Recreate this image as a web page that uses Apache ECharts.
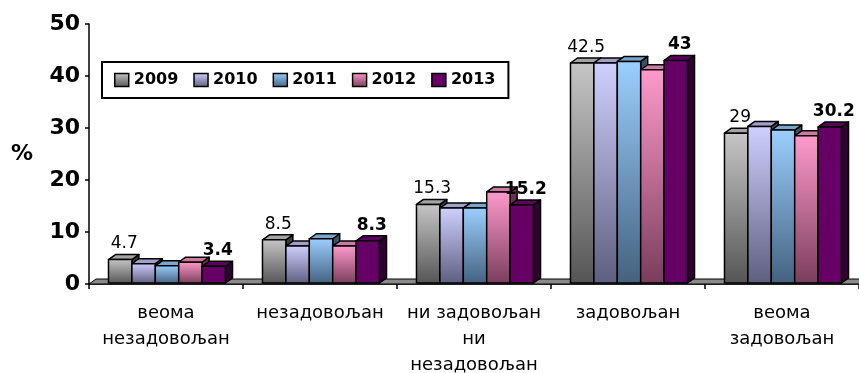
<!DOCTYPE html>
<html>
<head>
<meta charset="utf-8">
<script src="https://cdn.jsdelivr.net/npm/echarts@6/dist/echarts.min.js"></script>
<style>html,body{margin:0;padding:0;background:#fff}#c{width:859px;height:373px}</style>
</head>
<body>
<div id="c"></div>
<script>
const categories = ['веома\nнезадовољан', 'незадовољан', 'ни задовољан\nни\nнезадовољан', 'задовољан', 'веома\nзадовољан'];
const years = ['2009', '2010', '2011', '2012', '2013'];
const v2009 = [4.7, 8.5, 15.3, 42.5, 29];
const v2010 = [3.9, 7.3, 14.6, 42.5, 30.3];
const v2011 = [3.5, 8.7, 14.6, 42.8, 29.6];
const v2012 = [4.2, 7.3, 17.7, 41.2, 28.5];
const v2013 = [3.4, 8.3, 15.2, 43, 30.2];
const yTicks = [0, 10, 20, 30, 40, 50];

const seriesValues = [v2009, v2010, v2011, v2012, v2013];
const palette = [
  {front: ['#c6c6c6', '#555555'], top: '#a4a4a4', side: '#3c3c3c'},
  {front: ['#d0d0ff', '#5e5e80'], top: '#a0a0c8', side: '#4a4a66'},
  {front: ['#9ccfff', '#44627f'], top: '#78a6cf', side: '#38526c'},
  {front: ['#ff9acc', '#7a3d5b'], top: '#cc7aa3', side: '#66334d'},
  {front: ['#660066', '#660066'], top: '#5a005a', side: '#330033'}
];
const labelOn = [ {weight: 'normal'}, null, null, null, {weight: 'bold'} ];
const DX = 7, DY = 5;
const FONT = '"DejaVu Sans", sans-serif';

function grad(c) {
  return new echarts.graphic.LinearGradient(0, 0, 0, 1, [
    {offset: 0, color: c[0]}, {offset: 1, color: c[1]}
  ]);
}

function makeRender(idx) {
  const p = palette[idx];
  return function (params, api) {
    const ci = api.value(0), v = api.value(1);
    const t = api.coord([ci, v]);
    const b = api.coord([ci, 0]);
    const band = api.size([1, 0])[0];
    const bw = band * 0.152;
    const x0 = t[0] - 2.5 * bw + idx * bw + 1;
    const x1 = x0 + bw;
    const yt = t[1], yb = b[1] - 1;
    const ln = {stroke: '#000', lineWidth: 1.5, lineJoin: 'round'};
    const children = [
      {type: 'polygon', shape: {points: [[x1, yt], [x1 + DX, yt - DY], [x1 + DX, yb - DY], [x1, yb]]},
       style: Object.assign({fill: p.side}, ln)},
      {type: 'polygon', shape: {points: [[x0, yt], [x0 + DX, yt - DY], [x1 + DX, yt - DY], [x1, yt]]},
       style: Object.assign({fill: p.top}, ln)},
      {type: 'rect', shape: {x: x0, y: yt, width: bw, height: yb - yt},
       style: Object.assign({fill: grad(p.front)}, ln)}
    ];
    if (labelOn[idx]) {
      children.push({type: 'text', z2: 100,
        style: {text: String(v), x: (x0 + x1) / 2 + 4, y: yt - 7, align: 'center', verticalAlign: 'bottom',
          fill: '#000', font: labelOn[idx].weight + ' 17px ' + FONT}});
    }
    return {type: 'group', children: children};
  };
}

function floorRender(params, api) {
  const cs = params.coordSys;
  const yb = cs.y + cs.height;
  return {type: 'polygon', shape: {points: [[cs.x, yb], [cs.x + DX, yb - DY], [cs.x + cs.width + DX, yb - DY], [cs.x + cs.width, yb]]},
    style: {fill: '#8a8a8a', stroke: '#000', lineWidth: 1}};
}

const series = [{type: 'custom', name: 'floor', renderItem: floorRender, data: [[0, 0]], silent: true, z: 1}];
years.forEach(function (y, i) {
  series.push({
    type: 'custom', name: y, renderItem: makeRender(i), z: 2,
    itemStyle: {color: grad(palette[i].front)},
    data: seriesValues[i].map(function (val, k) { return [k, val]; })
  });
});

const chart = echarts.init(document.getElementById('c'), null, {renderer: 'canvas'});
chart.setOption({
  animation: false,
  backgroundColor: '#fff',
  grid: {left: 89, right: 0, top: 24, bottom: 89, containLabel: false, outerBoundsMode: 'none'},
  legend: {
    left: 102, top: 62, orient: 'horizontal',
    padding: [10, 13, 10, 12], itemGap: 15, itemWidth: 14, itemHeight: 13,
    borderColor: '#000', borderWidth: 2, backgroundColor: '#fff',
    textStyle: {fontFamily: FONT, fontWeight: 'bold', fontSize: 16, color: '#000'},
    data: years.map(function (y, i) {
      return {name: y, icon: 'rect', itemStyle: {color: grad(palette[i].front), borderColor: '#000', borderWidth: 1.5}};
    })
  },
  xAxis: {
    type: 'category', data: categories,
    axisLine: {lineStyle: {color: '#000', width: 1.5}, onZero: false},
    axisTick: {show: true, length: 5, lineStyle: {color: '#000', width: 1.5}},
    axisLabel: {fontFamily: FONT, fontSize: 18, color: '#000', lineHeight: 26, margin: 16, interval: 0}
  },
  yAxis: {
    type: 'value', min: yTicks[0], max: yTicks[yTicks.length - 1], interval: 10,
    name: '%', nameLocation: 'middle', nameGap: 56, nameRotate: 0,
    nameTextStyle: {fontFamily: FONT, fontWeight: 'bold', fontSize: 22, color: '#000', padding: [6, 0, 0, 0]},
    splitLine: {show: false},
    axisLine: {show: true, lineStyle: {color: '#000', width: 1.5}},
    axisTick: {show: true, length: 4, lineStyle: {color: '#000', width: 1.5}},
    axisLabel: {fontFamily: FONT, fontWeight: 'bold', fontSize: 22, color: '#000', margin: 9}
  },
  series: series
});
</script>
</body>
</html>
